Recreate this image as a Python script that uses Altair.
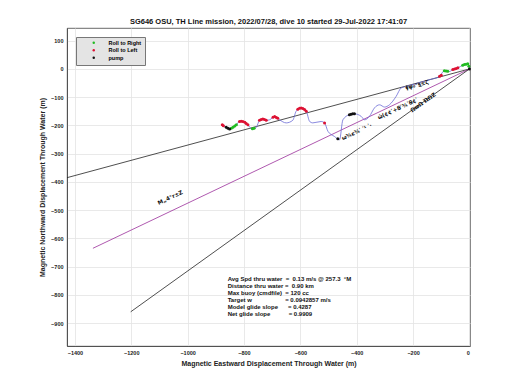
import altair as alt
import pandas as pd

FONT = "Liberation Sans"

# glider track through water (m)
track_x = [-877, -863, -851, -839, -827, -816, -804, -786, -780, -768, -756, -745, -733, -721, -709,
           -691, -674, -650, -627, -615, -597, -579, -567, -556, -526, -514, -502, -479, -461, -449,
           -426, -408, -384, -372, -355, -337, -319, -301, -284, -260, -242, -224, -142, -106, -89,
           -71, -59, -41, -24, -6, 0]
track_y = [-198, -206, -213, -206, -198, -186, -186, -198, -206, -213, -206, -182, -177, -182, -180,
           -168, -180, -191, -182, -150, -138, -150, -186, -191, -186, -191, -221, -239, -251, -180,
           -162, -159, -168, -180, -168, -138, -127, -135, -127, -97, -67, -62, -38, -26, -6,
           -9, -2, 4, 13, 18, 0]

# event markers
right_x = [-845, -839, -833, -827, -770, -764, -89, -83, -77, -24, -18, -12, -6, -2]
right_y = [-210, -206, -202, -198, -212, -210, -6, -7, -8, 13, 16, 17, 18, 10]
left_x = [-877, -873, -816, -810, -804, -797, -792, -786, -745, -739, -733, -727, -721, -697,
          -691, -685, -680, -609, -603, -597, -591, -585, -579, -514, -106, -100, -59, -53, -47, -41]
left_y = [-198, -201, -186, -185, -186, -189, -193, -198, -182, -179, -177, -179, -182, -171,
          -168, -172, -175, -143, -139, -138, -140, -144, -150, -191, -26, -22, -2, 0, 2, 4]
pump_x = [-863, -857, -851, -426, -420, -414, -408, -467, 0]
pump_y = [-206, -210, -213, -162, -160, -159, -159, -247, 0]

# reference lines from origin
upper_x, upper_y = [0, -1428], [0, -385]
model_x, model_y = [0, -1336], [0, -635]
lower_x, lower_y = [0, -1202], [0, -860]

# line annotations
lab_text = ["ǂψ₀°ȿ±ζ", "ω¾ȼ¾ʹ ʹ¹ ʹ·", "ώ(¢¢ʹ+Ꞩʹ¾ʹꞨ¢ʹ", "ΩϖΩ ΏΩΖ", "M„4°r±Z"]
lab_x = [-186, -400, -255, -165, -1062]
lab_y = [-56, -222, -140, -118, -455]
lab_angle = [-15, -25, -25, -35, -25]

stats_lines = [
    "Avg Spd thru water  =  0.13 m/s @ 257.3  °M",
    "Distance thru water =  0.90 km",
    "Max buoy (cmdfile)  = 120 cc",
    "Target w                    = 0.0942857 m/s",
    "Model glide slope      = 0.4287",
    "Net glide slope           = 0.9909",
]
stats_pos = pd.DataFrame({"x": [-858], "y": [-752]})

x_ticks = [-1400, -1200, -1000, -800, -600, -400, -200, 0]
y_ticks = [100, 0, -100, -200, -300, -400, -500, -600, -700, -800, -900]
x_dom = [-1428, 2]
y_dom = [-981, 145]

title = "SG646 OSU, TH Line mission, 2022/07/28, dive 10 started 29-Jul-2022 17:41:07"

xs = alt.Scale(domain=x_dom, nice=False, zero=False)
ys = alt.Scale(domain=y_dom, nice=False, zero=False)

X = alt.X("x:Q", scale=xs, axis=alt.Axis(values=x_ticks, format="d",
                                         title="Magnetic Eastward Displacement Through Water (m)"))
Y = alt.Y("y:Q", scale=ys, axis=alt.Axis(values=y_ticks, format="d",
                                         title="Magnetic Northward Displacement Through Water (m)"))


def ref_line(xv, yv, color):
    df = pd.DataFrame({"x": xv, "y": yv})
    return alt.Chart(df).mark_line(strokeWidth=0.8, clip=True, color=color).encode(x=X, y=Y)


ref_lines = alt.layer(
    ref_line(upper_x, upper_y, "#222222"),
    ref_line(model_x, model_y, "#9a2f9a"),
    ref_line(lower_x, lower_y, "#222222"),
)

track_df = pd.DataFrame({"x": track_x, "y": track_y, "o": range(len(track_x))})
track = alt.Chart(track_df).mark_line(color="#6b6bd6", strokeWidth=0.8, interpolate="monotone").encode(
    x=X, y=Y, order="o:Q")

ev_df = pd.concat([
    pd.DataFrame({"x": right_x, "y": right_y, "k": "Roll to Right"}),
    pd.DataFrame({"x": left_x, "y": left_y, "k": "Roll to Left"}),
    pd.DataFrame({"x": pump_x, "y": pump_y, "k": "pump"}),
])
events = alt.Chart(ev_df).mark_circle(size=9, opacity=1).encode(
    x=X, y=Y,
    color=alt.Color("k:N", scale=alt.Scale(domain=["Roll to Right", "Roll to Left", "pump"],
                                           range=["#22bb22", "#dd1133", "#111111"]),
                    legend=alt.Legend(title=None, orient="none", legendX=9, legendY=9,
                                      fillColor="#e4e4e4", strokeColor="#777777", padding=3,
                                      symbolOffset=12, symbolSize=6, symbolType="circle",
                                      labelFont=FONT, labelFontSize=5.5, labelFontWeight="bold",
                                      labelOffset=12, rowPadding=0.5, labelLimit=200,
                                      symbolStrokeWidth=0)),
)

lab_df = pd.DataFrame({"x": lab_x, "y": lab_y, "t": lab_text, "a": lab_angle})
labels = alt.layer(*[
    alt.Chart(lab_df.iloc[[i]]).mark_text(font="DejaVu Sans", fontSize=5.5, fontWeight="bold",
                                          angle=(360 + lab_angle[i]) % 360,
                                          color="#111111").encode(x=X, y=Y, text="t:N")
    for i in range(len(lab_text))
])

stats_nb = [s.replace(" ", "\u00a0") for s in stats_lines]
stats = alt.Chart(stats_pos).mark_text(font=FONT, fontSize=6, fontWeight="bold", align="left",
                                       baseline="alphabetic", lineHeight=6.9, color="#111111").encode(
    x=X, y=Y, text=alt.value(stats_nb))

chart = alt.layer(ref_lines, track, events, labels, stats).properties(
    width=403, height=318,
    title=alt.TitleParams(title, font=FONT, fontSize=7.5, fontWeight="bold", offset=3, anchor="middle", color="#111"),
    autosize="none",
    padding={"left": 59, "top": 20, "right": 30, "bottom": 30},
).configure_view(stroke="#444444", strokeWidth=0.8).configure_axis(
    grid=True, gridColor="#e3e3e3", gridWidth=0.8,
    domainColor="#444444", domainWidth=0.8, tickSize=0,
    labelFont=FONT, labelFontSize=5.5, labelFontWeight="bold", labelColor="#222222", labelPadding=4,
    titleFont=FONT, titleFontSize=7, titleFontWeight="bold", titleColor="#222222",
).configure_axisX(titlePadding=4).configure_axisY(titlePadding=5)

chart.save("out.html", embed_options={"renderer": "svg", "actions": False})
